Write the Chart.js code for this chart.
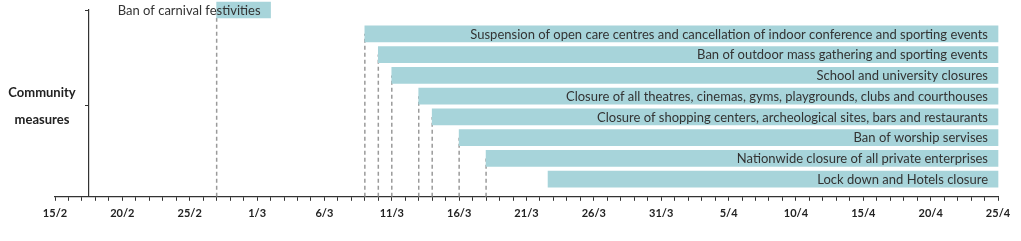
<!DOCTYPE html>
<html>
<head>
<meta charset="utf-8">
<script src="https://cdn.jsdelivr.net/npm/chart.js@4"></script>
<style>
  html, body { margin: 0; padding: 0; background: #fff; }
  #wrap { width: 1021px; height: 241px; }
</style>
</head>
<body>
<div id="wrap"><canvas id="timeline" width="1021" height="241"></canvas></div>
<script>
// ── Data (days counted from 15/2) ───────────────────────────────────────────
const measures = [
  'Ban of carnival festivities',
  'Suspension of open care centres and cancellation of indoor conference and sporting events',
  'Ban of outdoor mass gathering and sporting events',
  'School and university closures',
  'Closure of all theatres, cinemas, gyms, playgrounds, clubs and courthouses',
  'Closure of shopping centers, archeological sites, bars and restaurants',
  'Ban of worship servises',
  'Nationwide closure of all private enterprises',
  'Lock down and Hotels closure'
];
const startDay  = [12, 23, 24, 25, 27, 28, 30, 32, 36.6];
const endDay    = [16, 70, 70, 70, 70, 70, 70, 70, 70];
const rowPos    = [9.0, 7.85, 6.85, 5.85, 4.85, 3.85, 2.85, 1.85, 0.85];
const showGuide = [true, true, true, true, true, true, true, true, false];

const xTickLabels = ['15/2', '20/2', '25/2', '1/3', '6/3', '11/3', '16/3', '21/3',
                     '26/3', '31/3', '5/4', '10/4', '15/4', '20/4', '25/4'];
const yAxisLabel = ['Community', 'measures'];
const yLabelAt   = 4.4;

// ── Build datasets ──────────────────────────────────────────────────────────
const barData = measures.map((m, i) => ({ x: [startDay[i], endDay[i]], y: rowPos[i] }));

const guideData = [];
measures.forEach((m, i) => {
  if (!showGuide[i]) return;
  guideData.push({ x: startDay[i], y: 0 }, { x: startDay[i], y: rowPos[i] }, { x: startDay[i], y: null });
});

// ── Plugins: bar captions + y axis label ────────────────────────────────────
const barCaptions = {
  id: 'barCaptions',
  afterDatasetsDraw(chart) {
    const ctx = chart.ctx;
    const meta = chart.getDatasetMeta(1);
    ctx.save();
    ctx.font = '13px Lato';
    ctx.fillStyle = '#333';
    ctx.textAlign = 'right';
    ctx.textBaseline = 'middle';
    meta.data.forEach((bar, i) => {
      ctx.fillText(measures[i], bar.x - 10, bar.y + 0.5);
    });
    ctx.restore();
  }
};

const sideLabel = {
  id: 'sideLabel',
  afterDraw(chart) {
    const ctx = chart.ctx;
    const y = chart.scales.y.getPixelForValue(yLabelAt);
    ctx.save();
    ctx.font = 'bold 13px Lato';
    ctx.fillStyle = '#222';
    ctx.textAlign = 'center';
    ctx.textBaseline = 'middle';
    ctx.fillText(yAxisLabel[0], 42, y - 13);
    ctx.fillText(yAxisLabel[1], 42, y + 14);
    ctx.restore();
  }
};

// ── Chart ───────────────────────────────────────────────────────────────────
new Chart(document.getElementById('timeline'), {
  type: 'bar',
  data: {
    datasets: [
      {
        type: 'line',
        data: guideData,
        borderColor: '#9a9a9a',
        borderWidth: 1.5,
        borderDash: [4, 3],
        pointRadius: 0,
        spanGaps: false,
        order: 2
      },
      {
        type: 'bar',
        indexAxis: 'y',
        data: barData,
        backgroundColor: '#a7d4da',
        borderWidth: 0,
        barThickness: 16,
        clip: false,
        order: 1
      }
    ]
  },
  options: {
    responsive: false,
    animation: false,
    layout: { padding: { left: 55, right: 23, top: 10, bottom: 15 } },
    plugins: { legend: { display: false }, tooltip: { enabled: false } },
    scales: {
      x: {
        type: 'linear',
        min: 0,
        max: 70,
        offset: false,
        border: { color: '#333', width: 1.2 },
        grid: { offset: false, drawOnChartArea: false, drawTicks: true, tickLength: 4, color: '#333' },
        afterBuildTicks: scale => {
          scale.ticks = Array.from({ length: 71 }, (_, i) => ({ value: i }));
        },
        ticks: {
          autoSkip: false,
          maxRotation: 0,
          padding: 6,
          color: '#222',
          font: { family: 'Lato', size: 11, weight: 'bold' },
          callback: v => (v % 5 === 0 ? xTickLabels[v / 5] : '')
        }
      },
      y: {
        type: 'linear',
        min: 0,
        max: 9,
        offset: false,
        position: { x: 2.5 },
        border: { color: '#333', width: 1.2 },
        grid: { offset: false, drawOnChartArea: false, drawTicks: true, tickLength: 3, color: '#333' },
        afterBuildTicks: scale => {
          scale.ticks = [{ value: yLabelAt }, { value: 9 }];
        },
        ticks: { display: false }
      }
    }
  },
  plugins: [barCaptions, sideLabel]
});
</script>
</body>
</html>
